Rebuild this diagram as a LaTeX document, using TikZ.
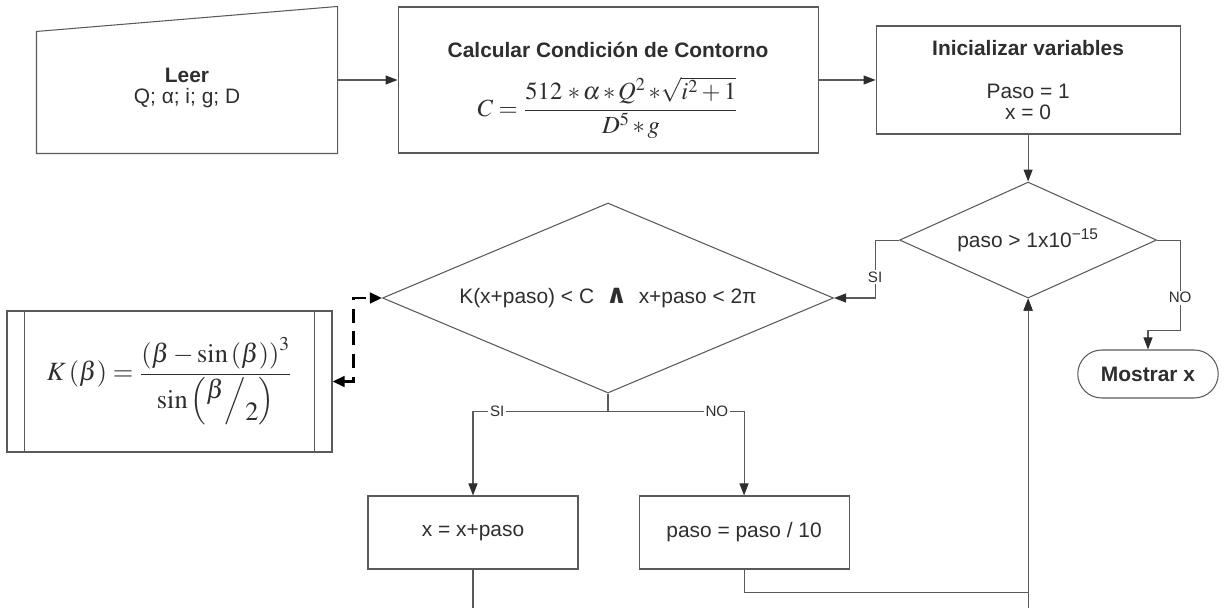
\documentclass[tikz,border=0pt]{standalone}
\usepackage{amsmath}
\usepackage{mathptmx}
\usepackage{fontspec}
\setmainfont{Liberation Sans}
\newfontfamily\symfont{DejaVu Sans}
\usetikzlibrary{arrows.meta,positioning,calc,shapes.geometric,shapes.misc}
\definecolor{Line}{HTML}{5A5A5A}
\definecolor{Txt}{HTML}{2E2E2E}
\newcommand\nodefont{\fontsize{11.9}{12.2}\selectfont}
\tikzset{
 proc/.style={draw=Line,line width=0.6pt,fill=white,align=center,font=\nodefont,text=Txt,inner sep=3pt},
 io/.style={proc,draw=none,fill=none,minimum width=6cm,minimum height=2.92cm},
 dec/.style={proc,diamond,inner sep=0pt},
 term/.style={proc,rounded rectangle,minimum width=3.02cm,minimum height=0.96cm,font=\nodefont\bfseries},
 arr/.style={-{Triangle[length=2.4mm,width=1.8mm,color=Txt]},draw=Line,line width=0.6pt},
 dsh/.style={{Triangle[length=2.4mm,width=2.1mm]}-{Triangle[length=2.4mm,width=2.1mm]},draw=black,line width=1.5pt,dash pattern=on 8pt off 5pt},
 lbl/.style={fill=white,inner sep=1pt,font=\fontsize{8.6}{9}\selectfont,text=Txt}
}

\begin{document}
\begin{tikzpicture}
\useasboundingbox (0,0) rectangle (24.5,-12.16);
\clip (0,0) rectangle (24.5,-12.16);
\node[io] (leer) at (3.74,-1.6) {\rule{0pt}{17pt}\textbf{Leer}\\Q; α; i; g; D};
\node[proc,minimum width=8.4cm,minimum height=2.92cm,right=1.2cm of leer] (calc) {\rule{0pt}{20pt}\textbf{Calcular Condición de Contorno}\\[10pt]
 {\fontsize{14}{16}\selectfont$C=\dfrac{512\;{*}\,\alpha\,{*}\,Q^{2}\,{*}\sqrt{i^{2}+1}}{D^{5}\,{*}\,g}$}};
\node[proc,minimum width=6.08cm,minimum height=2.16cm,right=1.14cm of calc] (ini) {\textbf{Inicializar variables}\\[12pt]Paso = 1\\x = 0};
\node[dec,minimum width=5.14cm,minimum height=2.32cm,shape aspect=2.2,below=0.94cm of ini] (paso) {paso > 1x10\textsuperscript{−15}};
\node[dec,minimum width=9.02cm,minimum height=3.8cm,shape aspect=2.4] (cond) at (12.16,-5.96) {K(x+paso) < C \ {\symfont\bfseries\fontsize{15}{15}\selectfont ∧}\ \ x+paso < 2π};
\node[proc,minimum width=6.5cm,minimum height=2.82cm] (kfun) at (3.39,-7.63) {\fontsize{15}{17}\selectfont
 $K\left(\beta\right)=\dfrac{\left(\beta-\sin\left(\beta\right)\right)^{3}}{\sin\left(\raisebox{0.7ex}{$\beta$}\Big/\raisebox{-0.9ex}{$2$}\right)}$};
\node[term] (out) at (22.96,-7.48) {Mostrar x};
\node[proc,minimum width=4.2cm,minimum height=1.46cm] (xpaso) at (9.46,-10.65) {x = x+paso};
\node[proc,minimum width=4.2cm,minimum height=1.46cm,right=1.2cm of xpaso] (pdiv) {paso = paso / 10};
% contour of the read block and the side bars of the function block
\draw[draw=Line,line width=0.6pt] (leer.south west) -- (leer.south east) -- (leer.north east) -- ([yshift=-0.5cm]leer.north west) -- cycle;
\foreach \s/\d in {west/0.37,east/-0.37} \draw[draw=Line,line width=0.6pt] ([xshift=\d cm]kfun.north \s) -- ([xshift=\d cm]kfun.south \s);
\foreach \x/\y in {leer/calc,calc/ini} \draw[arr] (\x.east|-\y) -- (\y);
\draw[arr] (ini) -- (paso);
\draw[arr] (paso.west) -- ++(-0.48,0) |- node[lbl,pos=0.32] {SI} (cond.east);
\draw[arr] (paso.east) -- ++(0.46,0) -- node[lbl,pos=0.64] {NO} ++(0,-1.8) -| (out.north);
\draw[arr] (cond.south) -- ++(0,-0.36) -| node[lbl,pos=0.41] {SI} (xpaso.north);
\draw[arr] (cond.south) -- ++(0,-0.36) -| node[lbl,pos=0.40] {NO} (pdiv.north);
\draw[arr] (pdiv.south) -- ++(0,-0.46) -| (paso.south);
\draw[arr] (xpaso.south) -- ++(0,-1.4) -| (paso.south);
\draw[dsh] (kfun.east) -- ++(0.42,0) |- (cond.west);
\end{tikzpicture}
\end{document}
